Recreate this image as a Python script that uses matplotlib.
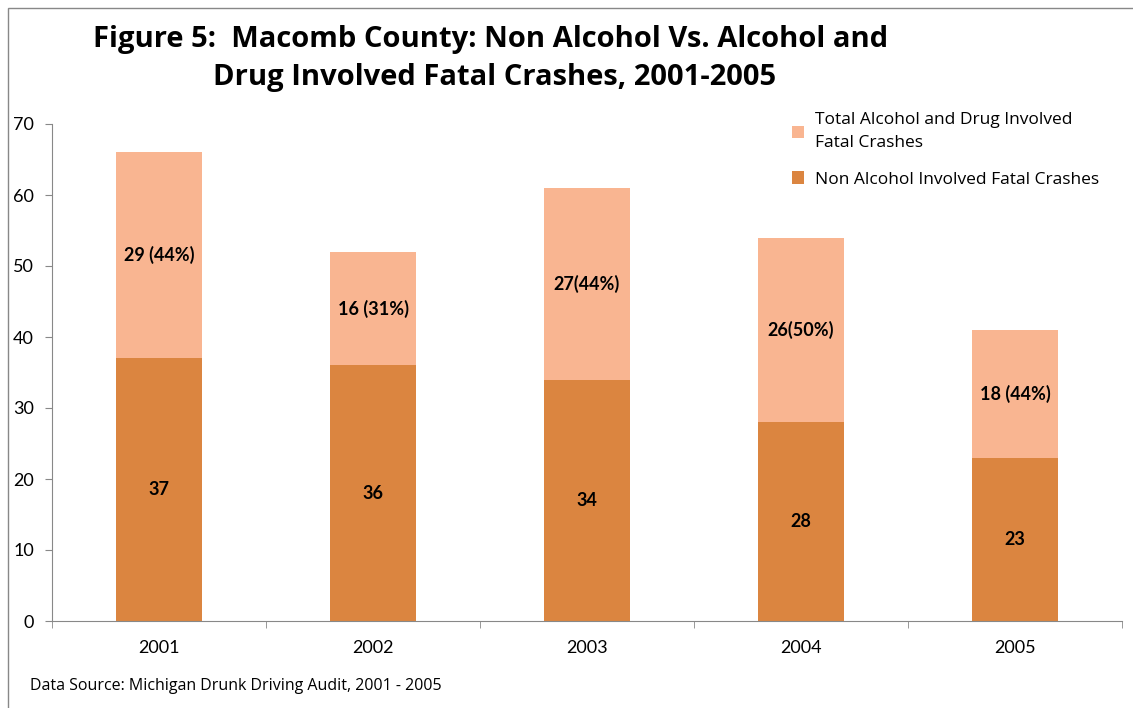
import numpy as np
import matplotlib
matplotlib.use("Agg")
import matplotlib.pyplot as plt
from matplotlib.patches import Rectangle

plt.rcParams["font.family"] = ["Lato", "DejaVu Sans"]

# dati
anni = ["2001", "2002", "2003", "2004", "2005"]
non_alcol = [37, 36, 34, 28, 23]
alcol = [29, 16, 27, 26, 18]
etichette_alcol = ["29 (44%)", "16 (31%)", "27(44%)", "26(50%)", "18 (44%)"]

col_scuro = "#DB8540"
col_chiaro = "#F9B591"

fig = plt.figure(figsize=(11.33, 7.08), dpi=100)
ax = fig.add_axes([52 / 1133, 87 / 708, 1070 / 1133, 497 / 708])

x = np.arange(len(anni))
width = 0.4
ax.bar(x, non_alcol, width, color=col_scuro, label="Non Alcohol Involved Fatal Crashes", zorder=2)
ax.bar(x, alcol, width, bottom=non_alcol, color=col_chiaro,
       label="Total Alcohol and Drug Involved\nFatal Crashes", zorder=2)

for i in range(len(anni)):
    ax.text(x[i], non_alcol[i] / 2, str(non_alcol[i]), ha="center", va="center",
            fontsize=13, fontweight="bold")
    ax.text(x[i], non_alcol[i] + alcol[i] / 2, etichette_alcol[i], ha="center", va="center",
            fontsize=13, fontweight="bold")

ax.set_xlim(-0.5, len(anni) - 0.5)
ax.set_ylim(0, 70)
ax.set_yticks(range(0, 71, 10))
ax.set_xticks(x)
ax.set_xticklabels(anni)
ax.set_xticks(np.arange(-0.5, len(anni), 1), minor=True)
ax.tick_params(axis="x", which="major", length=0, labelsize=13, pad=14)
ax.tick_params(axis="x", which="minor", length=5, color="#888888")
ax.tick_params(axis="y", length=5, color="#888888", labelsize=13, pad=8)
for s in ["top", "right"]:
    ax.spines[s].set_visible(False)
ax.spines["left"].set_color("#888888")
ax.spines["bottom"].set_color("#888888")

handles, labels = ax.get_legend_handles_labels()
leg = ax.legend(handles[::-1], labels[::-1], loc="upper left", bbox_to_anchor=(0.677, 1.055),
                frameon=False, prop={"family": "Open Sans", "size": 12.5},
                handlelength=0.7, handleheight=0.7, handletextpad=0.6, labelspacing=1.15)
for t in leg.get_texts():
    t.set_linespacing(1.6)

fig.text(491 / 1133, 1 - 40 / 708, "Figure 5:  Macomb County: Non Alcohol Vs. Alcohol and",
         ha="center", va="center", fontsize=21, fontweight="bold", family="Open Sans")
fig.text(495 / 1133, 1 - 78 / 708, "Drug Involved Fatal Crashes, 2001-2005",
         ha="center", va="center", fontsize=21, fontweight="bold", family="Open Sans")
fig.text(30 / 1133, 1 - 686 / 708, "Data Source: Michigan Drunk Driving Audit, 2001 - 2005",
         ha="left", va="center", fontsize=11.5, family="Open Sans")

# cornice
fig.patches.append(Rectangle((8 / 1133, -0.05), 1.2, 1 - 8 / 708 + 0.05, transform=fig.transFigure,
                             fill=False, edgecolor="#888888", linewidth=1))

fig.savefig("out.png", dpi=100)
